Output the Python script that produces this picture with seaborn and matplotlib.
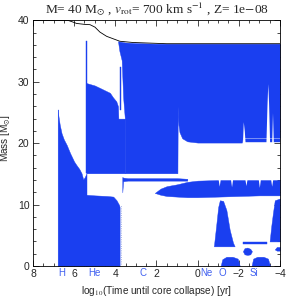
import numpy as np
import matplotlib
matplotlib.use("Agg")
import matplotlib.pyplot as plt
import seaborn as sns

# ---------------------------------------------------------------------
# DATOS (x = log10 tiempo hasta el colapso, masas en Msun)
# ---------------------------------------------------------------------
# masa total de la estrella
mt_x = [8.0, 6.30, 6.12, 5.88, 5.50, 5.23, 4.99, 4.75, 4.42, 4.02, 3.78, 3.15, 1.51, 0.0, -4.0]
mt_m = [40.0, 40.0, 39.8, 39.5, 39.35, 39.3, 38.9, 38.1, 37.4, 36.9, 36.6, 36.4, 36.2, 36.2, 36.2]

# nucleo convectivo de H
h_x = [6.80, 6.79, 6.70, 6.61, 6.50, 6.36, 6.20, 6.00, 5.88, 5.75, 5.64, 5.56, 5.48, 5.40]
h_top = [25.5, 25.0, 23.0, 21.6, 20.6, 19.7, 18.4, 17.0, 16.4, 15.8, 15.1, 14.1, 14.5, 15.1]

# nucleo convectivo de He
he_x = [5.41, 5.20, 5.00, 4.70, 4.40, 4.10, 3.94, 3.81, 3.79]
he_top = [11.6, 11.55, 11.5, 11.45, 11.4, 11.3, 10.7, 9.9, 9.6]

# zona convectiva intermedia
mid_x = [5.41, 5.00, 4.75, 4.26, 4.12, 3.95, 3.87, 3.85, 3.52]
mid_lo = [15.1, 15.1, 15.1, 15.1, 15.1, 15.1, 15.1, 15.1, 15.1]
mid_hi = [29.8, 29.4, 29.0, 28.2, 27.5, 26.8, 26.0, 24.0, 24.0]

# envoltura convectiva
env_x = [3.87, 3.80, 3.69, 3.62, 3.53, 3.52, 3.00, 2.00, 1.20, 0.98, 0.965, 0.93,
         0.88, 0.75, 0.50, 0.00, -1.00, -2.15, -2.19, -3.00, -4.00]
env_lo = [36.6, 35.0, 33.5, 27.5, 23.7, 15.1, 15.1, 15.1, 15.1, 15.1, 26.0, 23.0,
          21.8, 20.8, 20.3, 20.1, 20.1, 20.1, 20.9, 20.9, 20.9]
env_hi = [36.6, 36.55, 36.5, 36.45, 36.4, 36.4, 36.3, 36.2, 36.2, 36.2, 36.2, 36.2,
          36.2, 36.2, 36.2, 36.2, 36.2, 36.2, 36.2, 36.2, 36.2]
strip_x = [-2.19, -4.0]
strip_lo = [20.2, 20.2]
strip_hi = [20.6, 20.6]

# episodios finos
sp1_x = [5.42, 5.38]
sp1_lo = [15.1, 15.1]
sp1_hi = [36.7, 36.7]
sp2_x = [3.77, 3.73]
sp2_lo = [25.4, 25.4]
sp2_hi = [32.4, 32.4]

# capa de H
hsh_x = [3.66, 3.62, 3.40, 3.00, 2.00, 1.00, 0.50]
hsh_lo = [12.0, 13.8, 13.9, 13.9, 13.9, 13.9, 13.9]
hsh_hi = [14.5, 14.4, 14.3, 14.3, 14.3, 14.3, 14.2]

# capa de C
c_x = [2.08, 1.80, 1.50, 1.00, 0.50, 0.00, -1.00, -2.00, -3.00, -4.00]
c_lo = [11.9, 11.6, 11.4, 11.3, 11.2, 11.2, 11.3, 11.4, 11.5, 11.5]
c_hi = [11.9, 12.6, 13.0, 13.3, 13.7, 13.9, 14.0, 14.0, 14.0, 14.0]

# capa de O y capa de Si
o_x = [-0.79, -0.90, -1.00, -1.08, -1.24, -1.40, -1.56, -1.72, -1.80]
o_lo = [3.2, 3.2, 3.2, 3.2, 3.2, 3.2, 3.2, 3.2, 3.2]
o_hi = [3.2, 6.5, 9.6, 10.7, 10.6, 9.1, 5.9, 3.8, 3.2]
si_x = [-3.50, -3.58, -3.66, -3.75, -4.00]
si_lo = [4.0, 4.0, 4.0, 4.0, 4.0]
si_hi = [4.0, 6.5, 8.6, 10.7, 11.0]

# nucleos tardios y pequenos episodios
oc_x = [-1.12, -1.20, -1.40, -1.70, -1.95, -2.05]
oc_hi = [0.0, 1.1, 1.5, 1.5, 1.2, 0.0]
b2_x = [-2.20, -2.28, -2.42, -2.56, -2.64]
b2_lo = [2.4, 1.9, 1.8, 1.9, 2.4]
b2_hi = [2.4, 2.9, 3.0, 2.8, 2.4]
sic_x = [-2.62, -2.70, -2.90, -3.20, -3.42, -3.52]
sic_hi = [0.0, 1.2, 1.5, 1.5, 1.2, 0.0]
b4_x = [-3.75, -3.85, -4.0]
b4_lo = [2.7, 2.5, 2.5]
b4_hi = [2.7, 3.1, 3.1]
tl_x = [-2.22, -3.35]
tl_lo = [3.6, 3.6]
tl_hi = [3.9, 3.9]

# zonas radiativas dentro de la envoltura y de la capa de C (en blanco)
g1_x = [-2.18, -2.22, -2.27, -2.31]
g1_hi = [20.0, 23.5, 22.0, 20.0]
g2_x = [-3.32, -3.37, -3.41, -3.45, -3.50]
g2_hi = [20.0, 26.0, 29.7, 26.5, 20.0]
g3_x = [-3.60, -3.64, -3.68]
g3_hi = [20.0, 25.0, 20.0]
cn_x = [-1.00, -1.05, -1.10, -1.60, -1.65, -1.70, -2.30, -2.35, -2.40,
        -2.95, -3.00, -3.05, -3.55, -3.60, -3.65]
cn_lo = [14.1, 13.0, 14.1, 14.1, 12.9, 14.1, 14.1, 13.1, 14.1,
         14.1, 12.8, 14.1, 14.1, 13.0, 14.1]

# linea punteada tenue
dl_x = [3.72, 3.72]
dl_m = [0.3, 10.0]

# etiquetas de combustion
burn_names = ["H", "He", "C", "Ne", "O", "Si"]
burn_x = [6.59, 4.99, 2.66, -0.45, -1.22, -2.73]

# ---------------------------------------------------------------------
# ESTILO
# ---------------------------------------------------------------------
sns.set_theme(style="ticks")
plt.rcParams["font.family"] = ["Liberation Sans", "DejaVu Sans"]
plt.rcParams["mathtext.fontset"] = "stix"
plt.rcParams["xtick.direction"] = "in"
plt.rcParams["ytick.direction"] = "in"

BLUE = "#1a3ff0"

fig = plt.figure(figsize=(3.0, 2.97), dpi=100)
ax = fig.add_axes([0.11, 0.1044, 0.823, 0.827])

zones = [
    (h_x, [0.0] * len(h_x), h_top),
    (he_x, [0.0] * len(he_x), he_top),
    (mid_x, mid_lo, mid_hi),
    (env_x, env_lo, env_hi),
    (strip_x, strip_lo, strip_hi),
    (sp1_x, sp1_lo, sp1_hi),
    (sp2_x, sp2_lo, sp2_hi),
    (hsh_x, hsh_lo, hsh_hi),
    (c_x, c_lo, c_hi),
    (o_x, o_lo, o_hi),
    (si_x, si_lo, si_hi),
    (oc_x, [0.0] * len(oc_x), oc_hi),
    (b2_x, b2_lo, b2_hi),
    (sic_x, [0.0] * len(sic_x), sic_hi),
    (b4_x, b4_lo, b4_hi),
    (tl_x, tl_lo, tl_hi),
]
for zx, zlo, zhi in zones:
    ax.fill_between(zx, zlo, zhi, color=BLUE, lw=0.3, edgecolor=BLUE)

for gx, ghi in [(g1_x, g1_hi), (g2_x, g2_hi), (g3_x, g3_hi)]:
    ax.fill_between(gx, [19.9] * len(gx), ghi, color="white", lw=0)
ax.fill_between(cn_x, cn_lo, [14.2] * len(cn_x), color="white", lw=0)

ax.plot(dl_x, dl_m, ls=":", color="#8899dd", lw=0.6)
sns.lineplot(x=mt_x, y=mt_m, color="black", lw=0.6, sort=False,
             estimator=None, ax=ax)

ax.set_xlim(8, -4)
ax.set_ylim(0, 40)
ax.set_xticks([8, 6, 4, 2, 0, -2, -4])
ax.set_yticks([0, 10, 20, 30, 40])
ax.set_xticks(np.arange(-4, 8.01, 0.5), minor=True)
ax.set_yticks(np.arange(0, 40.01, 2), minor=True)
ax.tick_params(which="both", top=True, right=True, labelsize=7.5, width=0.5,
               color="black", pad=2.5)
ax.tick_params(which="major", length=4)
ax.tick_params(which="minor", length=2)
for s in ax.spines.values():
    s.set_linewidth(0.6)
    s.set_color("black")

for name, bx in zip(burn_names, burn_x):
    ax.text(bx, -0.027, name, transform=ax.get_xaxis_transform(), color="#4060f0",
            fontsize=7, ha="center", va="center")

ax.set_xlabel(r"log$_{10}$(Time until core collapse) [yr]", fontsize=7.2, labelpad=3)
ax.set_ylabel(r"Mass [M$_{\odot}$]", fontsize=7.2)
ax.yaxis.set_label_coords(-0.08, 0.52)
fig.text(0.522, 0.969,
         r"M= 40 M$_{\odot}$ , $v_{\rm rot}$= 700 km s$^{-1}$ , Z= 1e$-$08",
         fontsize=9.6, ha="center", va="center",
         family=["Liberation Serif", "DejaVu Serif"])

fig.savefig("out.png", dpi=100)
